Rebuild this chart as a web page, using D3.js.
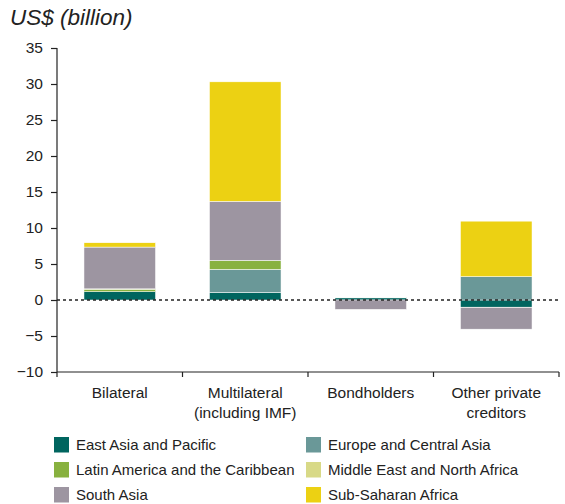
<!DOCTYPE html>
<html>
<head>
<meta charset="utf-8">
<script src="https://cdn.jsdelivr.net/npm/d3@7"></script>
<style>
  html, body { margin: 0; padding: 0; background: #fff; }
  svg { display: block; font-family: "Liberation Sans", Arial, Helvetica, sans-serif; }
</style>
</head>
<body>
<svg id="chart" width="565" height="504"></svg>
<script>
const categories = ["Bilateral", "Multilateral\n(including IMF)", "Bondholders", "Other private\ncreditors"];
const regions = ["East Asia and Pacific", "Europe and Central Asia", "Latin America and the Caribbean",
                 "Middle East and North Africa", "South Asia", "Sub-Saharan Africa"];
const colors = ["#00655f", "#6a9898", "#88b13f", "#d8d987", "#9d95a1", "#ecd113"];
// values per region, one entry per category
const eastAsiaPacific   = [1.15, 1.05, 0.3, -1.0];
const europeCentralAsia = [0.0, 3.2, 0.0, 3.25];
const latinAmerica      = [0.35, 1.25, 0.05, 0.0];
const middleEastNAfrica = [0.05, 0.0, 0.0, -0.05];
const southAsia         = [5.8, 8.2, -1.3, -3.0];
const subSaharanAfrica  = [0.6, 16.6, 0.0, 7.7];
const series = [eastAsiaPacific, europeCentralAsia, latinAmerica, middleEastNAfrica, southAsia, subSaharanAfrica];
const yTicks = [-10, -5, 0, 5, 10, 15, 20, 25, 30, 35];

const svg = d3.select("#chart");

const x = d3.scaleBand().domain(categories).range([57, 559]).paddingInner(0.43).paddingOuter(0.215);
const y = d3.scaleLinear().domain([-10, 35]).range([372, 48]);

// title
svg.append("text").attr("x", 10).attr("y", 25)
  .attr("font-size", 22.5).attr("font-style", "italic").attr("fill", "#222")
  .text("US$ (billion)");

// stacked bars (positive up, negative down)
const rows = categories.map((c, i) => {
  const o = { cat: c };
  regions.forEach((r, j) => o[r] = series[j][i]);
  return o;
});
const stack = d3.stack().keys(regions).offset(d3.stackOffsetDiverging);
const stacked = stack(rows);

const g = svg.append("g");
stacked.forEach((layer, j) => {
  g.selectAll(null).data(layer.filter(d => d[1] !== d[0])).enter().append("rect")
    .attr("x", d => x(d.data.cat))
    .attr("width", x.bandwidth())
    .attr("y", d => y(Math.max(d[0], d[1])))
    .attr("height", d => Math.abs(y(d[0]) - y(d[1])))
    .attr("fill", colors[j])
    .attr("stroke", "#fff").attr("stroke-width", 0.5);
});

// zero dotted line
svg.append("line")
  .attr("x1", 57).attr("x2", 560).attr("y1", y(0)).attr("y2", y(0))
  .attr("stroke", "#222").attr("stroke-width", 1.4).attr("stroke-dasharray", "3,3");

// y axis
const yAxis = svg.append("g").attr("transform", "translate(57,0)")
  .call(d3.axisLeft(y).tickValues(yTicks).tickSize(6).tickPadding(8)
    .tickFormat(d => d < 0 ? "\u2212" + Math.abs(d) : d));
yAxis.select(".domain").attr("stroke", "#222").attr("stroke-width", 1.2).attr("d", "M0,372V48");
yAxis.selectAll(".tick line").attr("stroke", "#222").attr("stroke-width", 1.2);
yAxis.selectAll("text").attr("font-size", 15.5).attr("fill", "#222")
  .attr("font-family", "'Liberation Sans', Arial, sans-serif");

// x axis with ticks at band boundaries
const xg = svg.append("g").attr("transform", `translate(0,${y(-10)})`);
xg.append("line").attr("x1", 57).attr("x2", 559).attr("stroke", "#222").attr("stroke-width", 1.2);
const step = x.step();
const bounds = categories.map((c, i) => x(c) - (step - x.bandwidth()) / 2).concat([559]);
bounds.forEach(b => {
  xg.append("line").attr("x1", b).attr("x2", b).attr("y1", 0).attr("y2", 5)
    .attr("stroke", "#222").attr("stroke-width", 1.2);
});
categories.forEach(c => {
  const lines = c.split("\n");
  const t = xg.append("text").attr("text-anchor", "middle").attr("font-size", 15.5).attr("fill", "#222");
  lines.forEach((l, k) => {
    t.append("tspan").attr("x", x(c) + x.bandwidth() / 2).attr("y", 26 + k * 19.5).text(l);
  });
});

// legend
const legendCols = [54, 306];
const legendRows = [445, 470, 495];
regions.forEach((r, i) => {
  const cx = legendCols[i % 2], cy = legendRows[Math.floor(i / 2)];
  svg.append("rect").attr("x", cx).attr("y", cy - 8).attr("width", 15).attr("height", 15.5).attr("fill", colors[i]);
  svg.append("text").attr("x", cx + 22).attr("y", cy + 5).attr("font-size", 15).attr("fill", "#222").text(r);
});
</script>
</body>
</html>
